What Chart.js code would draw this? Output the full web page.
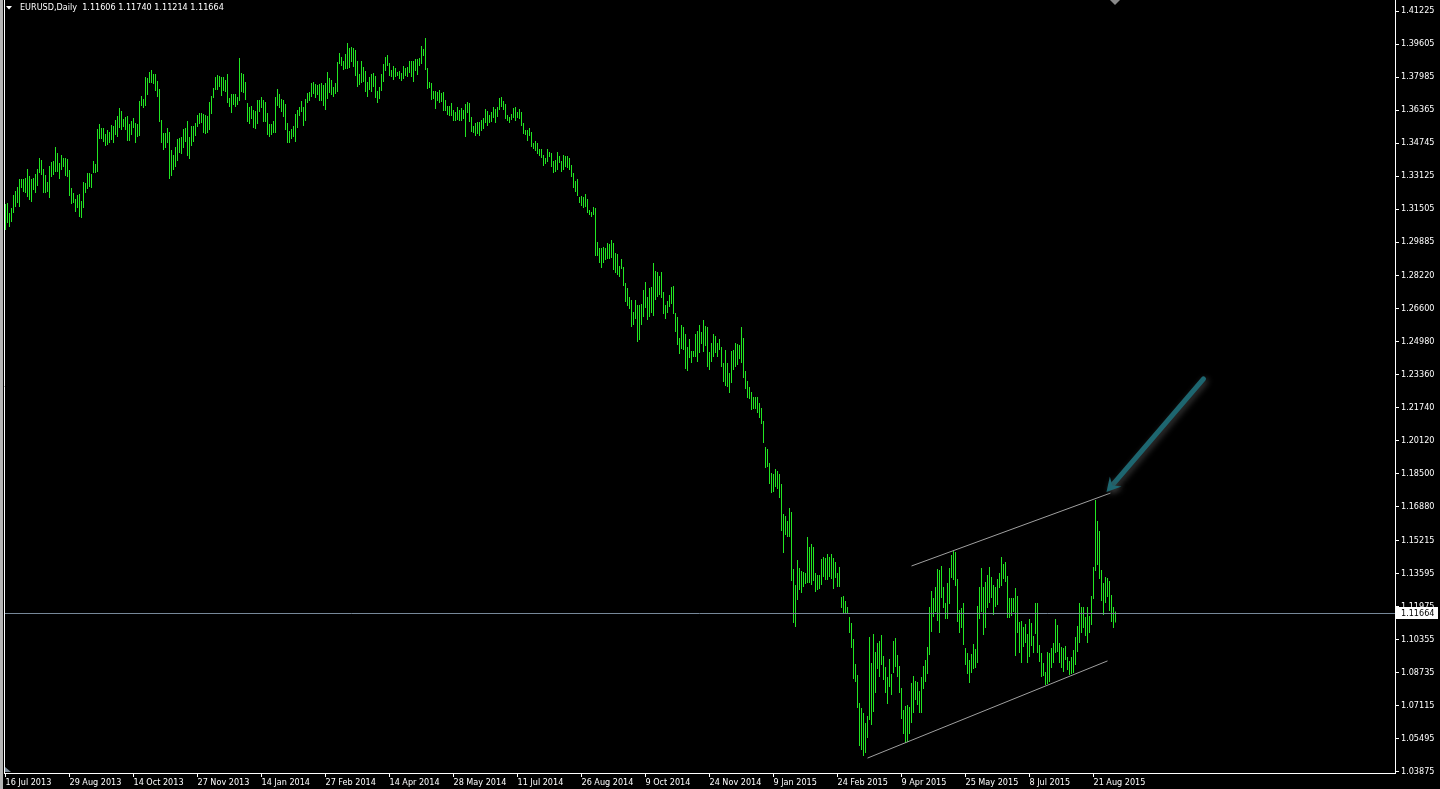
<!DOCTYPE html>
<html>
<head>
<meta charset="utf-8">
<title>EURUSD,Daily</title>
<script src="https://cdn.jsdelivr.net/npm/chart.js@4.4.1/dist/chart.umd.min.js"></script>
<style>
  html, body { margin: 0; padding: 0; background: #000; overflow: hidden; }
  #chart { display: block; }
</style>
</head>
<body>
<canvas id="chart" width="1440" height="789"></canvas>
<script>
// EURUSD daily bars from 16 Jul 2013, one entry per trading day (high / low)
const highs = [
  1.3175,1.3180,1.3131,1.3155,1.3219,1.3239,1.3259,1.3298,1.3298,1.3298,
  1.3303,1.3347,1.3313,1.3298,1.3303,1.3322,1.3347,1.3401,1.3391,1.3347,
  1.3318,1.3283,1.3362,1.3381,1.3386,1.3455,1.3425,1.3376,1.3416,1.3401,
  1.3401,1.3396,1.3342,1.3254,1.3229,1.3200,1.3219,1.3224,1.3190,1.3283,
  1.3278,1.3327,1.3327,1.3322,1.3386,1.3371,1.3543,1.3568,1.3548,1.3548,
  1.3519,1.3538,1.3529,1.3563,1.3558,1.3587,1.3607,1.3646,1.3632,1.3592,
  1.3602,1.3607,1.3568,1.3583,1.3597,1.3573,1.3568,1.3681,1.3705,1.3691,
  1.3799,1.3794,1.3823,1.3833,1.3813,1.3813,1.3779,1.3740,1.3587,1.3524,
  1.3524,1.3548,1.3529,1.3440,1.3416,1.3455,1.3494,1.3499,1.3504,1.3543,
  1.3548,1.3583,1.3504,1.3558,1.3558,1.3573,1.3612,1.3622,1.3622,1.3617,
  1.3612,1.3607,1.3676,1.3705,1.3745,1.3799,1.3808,1.3803,1.3799,1.3799,
  1.3784,1.3813,1.3695,1.3715,1.3715,1.3715,1.3700,1.3892,1.3818,1.3813,
  1.3774,1.3671,1.3651,1.3656,1.3637,1.3632,1.3686,1.3686,1.3700,1.3686,
  1.3676,1.3622,1.3568,1.3568,1.3583,1.3700,1.3740,1.3715,1.3691,1.3686,
  1.3666,1.3573,1.3533,1.3543,1.3558,1.3617,1.3637,1.3651,1.3681,1.3651,
  1.3691,1.3720,1.3725,1.3769,1.3774,1.3764,1.3759,1.3764,1.3769,1.3759,
  1.3769,1.3823,1.3794,1.3784,1.3749,1.3769,1.3872,1.3916,1.3897,1.3877,
  1.3911,1.3965,1.3941,1.3946,1.3941,1.3931,1.3877,1.3813,1.3877,1.3848,
  1.3828,1.3774,1.3799,1.3813,1.3818,1.3803,1.3730,1.3749,1.3813,1.3862,
  1.3897,1.3906,1.3867,1.3833,1.3853,1.3843,1.3823,1.3828,1.3818,1.3853,
  1.3843,1.3848,1.3877,1.3877,1.3877,1.3887,1.3887,1.3892,1.3951,1.3936,
  1.3990,1.3843,1.3774,1.3769,1.3730,1.3730,1.3725,1.3735,1.3720,1.3725,
  1.3686,1.3656,1.3656,1.3671,1.3637,1.3627,1.3651,1.3637,1.3646,1.3637,
  1.3666,1.3676,1.3671,1.3602,1.3558,1.3573,1.3578,1.3578,1.3587,1.3597,
  1.3641,1.3632,1.3612,1.3627,1.3651,1.3641,1.3651,1.3695,1.3700,1.3681,
  1.3666,1.3612,1.3602,1.3617,1.3646,1.3651,1.3627,1.3641,1.3627,1.3573,
  1.3538,1.3538,1.3548,1.3529,1.3475,1.3484,1.3475,1.3445,1.3445,1.3416,
  1.3401,1.3445,1.3430,1.3425,1.3386,1.3391,1.3430,1.3411,1.3386,1.3416,
  1.3411,1.3411,1.3401,1.3367,1.3327,1.3288,1.3298,1.3209,1.3214,1.3209,
  1.3224,1.3200,1.3146,1.3136,1.3160,1.3155,1.2989,1.2959,1.2959,1.2964,
  1.2959,1.2984,1.2979,1.2998,1.2984,1.2935,1.2930,1.2871,1.2905,1.2866,
  1.2787,1.2763,1.2719,1.2704,1.2645,1.2704,1.2679,1.2679,1.2684,1.2753,
  1.2792,1.2719,1.2763,1.2768,1.2885,1.2846,1.2841,1.2822,1.2841,1.2743,
  1.2679,1.2699,1.2728,1.2768,1.2773,1.2640,1.2620,1.2517,1.2581,1.2571,
  1.2537,1.2473,1.2512,1.2453,1.2453,1.2537,1.2552,1.2581,1.2547,1.2606,
  1.2576,1.2571,1.2449,1.2493,1.2537,1.2527,1.2493,1.2512,1.2473,1.2395,
  1.2458,1.2395,1.2345,1.2453,1.2458,1.2493,1.2488,1.2483,1.2571,1.2517,
  1.2355,1.2306,1.2277,1.2252,1.2228,1.2228,1.2228,1.2198,1.2174,1.2110,
  1.1982,1.1972,1.1904,1.1855,1.1850,1.1874,1.1864,1.1850,1.1801,1.1653,
  1.1643,1.1619,1.1683,1.1663,1.1383,1.1305,1.1427,1.1388,1.1373,1.1368,
  1.1364,1.1540,1.1491,1.1506,1.1491,1.1364,1.1354,1.1354,1.1432,1.1442,
  1.1437,1.1457,1.1442,1.1457,1.1437,1.1418,1.1364,1.1393,1.1246,1.1251,
  1.1226,1.1197,1.1148,1.1118,1.1040,1.0917,1.0863,1.0725,1.0701,1.0676,
  1.0627,1.0662,1.1049,1.0922,1.1064,1.0976,1.1020,1.1030,1.1059,1.0956,
  1.0902,1.0853,1.0941,1.0868,1.1030,1.1045,1.0961,1.0907,1.0799,1.0691,
  1.0711,1.0716,1.0706,1.0824,1.0858,1.0833,1.0829,1.0784,1.0853,1.0907,
  1.0937,1.1000,1.1197,1.1275,1.1241,1.1295,1.1383,1.1378,1.1398,1.1295,
  1.1216,1.1315,1.1388,1.1452,1.1472,1.1467,1.1334,1.1182,1.1192,1.1216,
  1.0995,1.0971,1.0937,1.0966,1.1015,1.0990,1.1202,1.1295,1.1388,1.1295,
  1.1319,1.1354,1.1393,1.1344,1.1305,1.1295,1.1334,1.1364,1.1442,1.1408,
  1.1418,1.1349,1.1241,1.1241,1.1241,1.1290,1.1251,1.1123,1.1128,1.1099,
  1.1113,1.1064,1.1138,1.1118,1.1054,1.1216,1.1216,1.1010,1.0971,1.0922,
  1.0878,1.0976,1.0971,1.0995,1.1020,1.1138,1.1108,1.1020,1.1000,1.0995,
  1.1005,1.0951,1.0932,1.0951,1.0986,1.1049,1.1103,1.1216,1.1197,1.1197,
  1.1148,1.1197,1.1153,1.1251,1.1393,1.1722,1.1619,1.1570,1.1378,1.1315,
  1.1344,1.1339,1.1324,1.1255,1.1197,1.1174
];
const lows = [
  1.3047,1.3082,1.3062,1.3087,1.3131,1.3160,1.3180,1.3160,1.3254,1.3234,
  1.3229,1.3209,1.3195,1.3185,1.3244,1.3229,1.3263,1.3327,1.3318,1.3229,
  1.3229,1.3234,1.3205,1.3308,1.3318,1.3332,1.3332,1.3298,1.3342,1.3357,
  1.3313,1.3308,1.3214,1.3175,1.3180,1.3136,1.3155,1.3111,1.3106,1.3155,
  1.3229,1.3249,1.3259,1.3254,1.3327,1.3327,1.3332,1.3494,1.3494,1.3479,
  1.3460,1.3465,1.3475,1.3489,1.3475,1.3514,1.3504,1.3548,1.3538,1.3553,
  1.3538,1.3484,1.3484,1.3514,1.3548,1.3475,1.3504,1.3509,1.3656,1.3646,
  1.3656,1.3710,1.3769,1.3769,1.3764,1.3730,1.3700,1.3578,1.3475,1.3440,
  1.3450,1.3475,1.3298,1.3313,1.3342,1.3357,1.3386,1.3425,1.3420,1.3450,
  1.3479,1.3411,1.3396,1.3460,1.3479,1.3509,1.3553,1.3568,1.3573,1.3524,
  1.3519,1.3524,1.3538,1.3617,1.3695,1.3735,1.3735,1.3749,1.3705,1.3730,
  1.3725,1.3671,1.3651,1.3622,1.3661,1.3651,1.3661,1.3681,1.3725,1.3720,
  1.3686,1.3578,1.3568,1.3592,1.3548,1.3543,1.3568,1.3627,1.3646,1.3578,
  1.3578,1.3514,1.3504,1.3514,1.3524,1.3524,1.3656,1.3646,1.3627,1.3602,
  1.3538,1.3475,1.3475,1.3494,1.3504,1.3479,1.3548,1.3607,1.3627,1.3558,
  1.3583,1.3671,1.3681,1.3700,1.3715,1.3695,1.3710,1.3681,1.3681,1.3656,
  1.3637,1.3691,1.3720,1.3710,1.3700,1.3715,1.3725,1.3862,1.3853,1.3833,
  1.3838,1.3838,1.3843,1.3872,1.3848,1.3803,1.3749,1.3759,1.3769,1.3774,
  1.3725,1.3700,1.3735,1.3725,1.3749,1.3695,1.3671,1.3691,1.3730,1.3774,
  1.3828,1.3853,1.3803,1.3799,1.3784,1.3799,1.3803,1.3789,1.3779,1.3789,
  1.3803,1.3799,1.3818,1.3799,1.3774,1.3828,1.3808,1.3853,1.3862,1.3902,
  1.3833,1.3740,1.3745,1.3686,1.3691,1.3641,1.3681,1.3671,1.3676,1.3632,
  1.3632,1.3612,1.3607,1.3607,1.3583,1.3583,1.3587,1.3583,1.3583,1.3592,
  1.3504,1.3622,1.3578,1.3529,1.3524,1.3509,1.3519,1.3509,1.3533,1.3543,
  1.3573,1.3558,1.3573,1.3578,1.3597,1.3573,1.3602,1.3637,1.3651,1.3637,
  1.3592,1.3583,1.3573,1.3587,1.3597,1.3583,1.3597,1.3592,1.3558,1.3519,
  1.3514,1.3484,1.3509,1.3455,1.3445,1.3435,1.3420,1.3411,1.3401,1.3362,
  1.3371,1.3381,1.3406,1.3357,1.3327,1.3332,1.3342,1.3376,1.3332,1.3342,
  1.3357,1.3352,1.3342,1.3308,1.3254,1.3234,1.3214,1.3180,1.3165,1.3155,
  1.3160,1.3131,1.3121,1.3111,1.3121,1.2920,1.2920,1.2885,1.2861,1.2885,
  1.2900,1.2905,1.2905,1.2910,1.2851,1.2836,1.2827,1.2817,1.2856,1.2773,
  1.2694,1.2674,1.2660,1.2571,1.2581,1.2611,1.2498,1.2507,1.2581,1.2620,
  1.2665,1.2606,1.2620,1.2640,1.2625,1.2704,1.2719,1.2728,1.2714,1.2635,
  1.2611,1.2640,1.2670,1.2684,1.2635,1.2547,1.2483,1.2439,1.2463,1.2458,
  1.2365,1.2355,1.2419,1.2395,1.2424,1.2424,1.2399,1.2444,1.2488,1.2449,
  1.2478,1.2375,1.2360,1.2399,1.2424,1.2444,1.2424,1.2458,1.2375,1.2301,
  1.2282,1.2277,1.2247,1.2296,1.2360,1.2375,1.2385,1.2414,1.2395,1.2321,
  1.2267,1.2223,1.2218,1.2164,1.2169,1.2169,1.2149,1.2124,1.2095,1.2002,
  1.1879,1.1884,1.1801,1.1756,1.1761,1.1786,1.1776,1.1732,1.1570,1.1462,
  1.1550,1.1540,1.1540,1.1324,1.1118,1.1099,1.1231,1.1280,1.1265,1.1295,
  1.1310,1.1315,1.1315,1.1305,1.1324,1.1270,1.1280,1.1285,1.1305,1.1344,
  1.1329,1.1329,1.1344,1.1334,1.1285,1.1339,1.1295,1.1295,1.1192,1.1167,
  1.1167,1.1162,1.1069,1.0995,1.0843,1.0829,1.0701,1.0514,1.0495,1.0465,
  1.0480,1.0554,1.0642,1.0618,1.0681,1.0775,1.0892,1.0853,1.0912,1.0838,
  1.0775,1.0721,1.0804,1.0765,1.0873,1.0902,1.0853,1.0775,1.0647,1.0573,
  1.0529,1.0534,1.0573,1.0627,1.0676,1.0740,1.0716,1.0676,1.0676,1.0794,
  1.0829,1.0868,1.0961,1.1074,1.1148,1.1172,1.1128,1.1069,1.1241,1.1192,
  1.1138,1.1138,1.1211,1.1339,1.1329,1.1300,1.1123,1.1069,1.1094,1.1010,
  1.0912,1.0868,1.0824,1.0873,1.0892,1.0897,1.0922,1.1138,1.1172,1.1059,
  1.1094,1.1192,1.1216,1.1241,1.1158,1.1197,1.1207,1.1290,1.1300,1.1334,
  1.1319,1.1143,1.1143,1.1153,1.1172,1.0956,1.1069,1.0971,1.0922,1.1000,
  1.1020,1.0922,1.0951,1.1005,1.0971,1.1064,1.0971,1.0927,1.0853,1.0858,
  1.0814,1.0819,1.0829,1.0897,1.0922,1.0971,1.0976,1.0922,1.0897,1.0878,
  1.0937,1.0887,1.0863,1.0868,1.0873,1.0912,1.0976,1.1020,1.1069,1.1094,
  1.1054,1.1020,1.1069,1.1108,1.1236,1.1373,1.1403,1.1334,1.1226,1.1158,
  1.1216,1.1246,1.1177,1.1123,1.1094,1.1121
];

// time axis labels, one every 32 bars
const dateLabels = ['16 Jul 2013', '29 Aug 2013', '14 Oct 2013', '27 Nov 2013', '14 Jan 2014',
  '27 Feb 2014', '14 Apr 2014', '28 May 2014', '11 Jul 2014', '26 Aug 2014', '9 Oct 2014',
  '24 Nov 2014', '9 Jan 2015', '24 Feb 2015', '9 Apr 2015', '25 May 2015', '8 Jul 2015', '21 Aug 2015'];
const labelStep = 32;

// price scale labels on the right
const priceTicks = [1.41225, 1.39605, 1.37985, 1.36365, 1.34745, 1.33125, 1.31505, 1.29885,
  1.28220, 1.26600, 1.24980, 1.23360, 1.21740, 1.20120, 1.18500, 1.16880, 1.15215, 1.13595,
  1.11975, 1.10355, 1.08735, 1.07115, 1.05495, 1.03875];

const symbolName = 'EURUSD,Daily';
const lastBar = [1.11606, 1.11740, 1.11214, 1.11664]; // open high low close
const bidPrice = 1.11664;

// channel lines and the arrow (bar index, price)
const upperChannel = [{x: 453, y: 1.1398}, {x: 552.5, y: 1.1756}];
const lowerChannel = [{x: 431, y: 1.0455}, {x: 551, y: 1.0932}];
const arrowFrom = {x: 599, y: 1.2316};
const arrowTo = {x: 550.5, y: 1.1761};

const FONT = 'Tahoma, "DejaVu Sans Condensed", "Liberation Sans", sans-serif';
const BAR_COLOR = '#22e622';

const decor = {
  id: 'decor',
  beforeDraw(chart) {
    const c = chart.ctx;
    c.save();
    c.fillStyle = '#000';
    c.fillRect(0, 0, chart.width, chart.height);
    c.fillStyle = '#b4b4b4';
    c.fillRect(0, 0, 3, chart.height);
    c.restore();
  },
  afterDatasetsDraw(chart) {
    const c = chart.ctx, xs = chart.scales.x, ys = chart.scales.y, area = chart.chartArea;
    c.save();
    // bid line
    const by = Math.round(ys.getPixelForValue(bidPrice)) + 0.5;
    c.strokeStyle = '#778899';
    c.lineWidth = 1;
    c.beginPath();
    c.moveTo(area.left, by);
    c.lineTo(area.right, by);
    c.stroke();

    // arrow
    const x1 = xs.getPixelForValue(arrowFrom.x), y1 = ys.getPixelForValue(arrowFrom.y);
    const x2 = xs.getPixelForValue(arrowTo.x), y2 = ys.getPixelForValue(arrowTo.y);
    const ang = Math.atan2(y2 - y1, x2 - x1);
    c.shadowColor = 'rgba(70,70,70,0.9)';
    c.shadowBlur = 6;
    c.shadowOffsetX = 2;
    c.shadowOffsetY = 2;
    c.strokeStyle = '#1d6670';
    c.fillStyle = '#1d6670';
    c.lineWidth = 5;
    c.lineCap = 'round';
    c.beginPath();
    c.moveTo(x1, y1);
    c.lineTo(x2 - 8 * Math.cos(ang), y2 - 8 * Math.sin(ang));
    c.stroke();
    c.beginPath();
    c.moveTo(x2, y2);
    c.lineTo(x2 - 16 * Math.cos(ang - 0.5), y2 - 16 * Math.sin(ang - 0.5));
    c.lineTo(x2 - 9 * Math.cos(ang), y2 - 9 * Math.sin(ang));
    c.lineTo(x2 - 16 * Math.cos(ang + 0.5), y2 - 16 * Math.sin(ang + 0.5));
    c.closePath();
    c.fill();
    c.restore();
  },
  afterDraw(chart) {
    const c = chart.ctx, ys = chart.scales.y, area = chart.chartArea;
    c.save();
    // left frame
    c.strokeStyle = '#fff';
    c.lineWidth = 1;
    c.beginPath();
    c.moveTo(area.left + 0.5, 0);
    c.lineTo(area.left + 0.5, area.bottom);
    c.stroke();

    // header
    c.fillStyle = '#fff';
    c.beginPath();
    c.moveTo(6, 6); c.lineTo(12, 6); c.lineTo(9, 9.5); c.closePath();
    c.fill();
    c.font = '9px ' + FONT;
    c.textBaseline = 'middle';
    c.fillText(symbolName + '  ' + lastBar.map(v => v.toFixed(5)).join(' '), 20, 8);

    // bid price box
    const by = Math.round(ys.getPixelForValue(bidPrice));
    c.fillStyle = '#fff';
    c.fillRect(area.right + 1, by - 6, 42, 12);
    c.fillStyle = '#000';
    c.fillText(bidPrice.toFixed(5), area.right + 6, by + 0.5);

    // shift markers
    c.fillStyle = '#8a8a8a';
    c.beginPath();
    c.moveTo(1110, 0); c.lineTo(1120, 0); c.lineTo(1115, 5); c.closePath();
    c.fill();
    c.fillStyle = '#7f8c99';
    c.beginPath();
    c.moveTo(area.left + 1, area.bottom - 6); c.lineTo(area.left + 1, area.bottom - 1);
    c.lineTo(area.left + 7, area.bottom - 1); c.closePath();
    c.fill();
    c.restore();
  }
};

const bars = highs.map((h, i) => ({x: i, y: [lows[i], h]}));

new Chart(document.getElementById('chart'), {
  type: 'bar',
  data: {
    datasets: [
      {
        type: 'bar',
        data: bars,
        backgroundColor: BAR_COLOR,
        borderWidth: 0,
        barThickness: 1,
        inflateAmount: 0,
        grouped: false,
        order: 2
      },
      {
        type: 'line',
        data: upperChannel,
        borderColor: '#a0a0a0',
        borderWidth: 1,
        pointRadius: 0,
        order: 1
      },
      {
        type: 'line',
        data: lowerChannel,
        borderColor: '#a0a0a0',
        borderWidth: 1,
        pointRadius: 0,
        order: 1
      }
    ]
  },
  options: {
    responsive: false,
    animation: false,
    devicePixelRatio: 1,
    layout: { padding: { left: 4, top: 0, right: 0, bottom: 0 } },
    plugins: { legend: { display: false }, tooltip: { enabled: false } },
    scales: {
      x: {
        type: 'linear',
        min: -0.75,
        max: 694.75,
        offset: false,
        bounds: 'data',
        afterBuildTicks: s => { s.ticks = dateLabels.map((d, k) => ({value: k * labelStep})); },
        afterFit: s => { s.height = 16; s.paddingLeft = 0; s.paddingRight = 0; },
        ticks: {
          color: '#fff',
          font: { family: FONT, size: 9 },
          align: 'start',
          maxRotation: 0,
          autoSkip: false,
          padding: 0,
          callback: (v, k) => dateLabels[k]
        },
        grid: { drawOnChartArea: false, offset: false, tickLength: 4, color: '#fff' },
        border: { display: true, color: '#fff', width: 1 }
      },
      y: {
        position: 'right',
        min: 1.03818,
        max: 1.41765,
        beginAtZero: false,
        bounds: 'data',
        afterBuildTicks: s => { s.ticks = priceTicks.map(v => ({value: v})); },
        afterFit: s => { s.width = 45; s.paddingTop = 0; s.paddingBottom = 0; },
        ticks: {
          color: '#fff',
          font: { family: FONT, size: 9 },
          padding: 2,
          autoSkip: false,
          callback: v => v.toFixed(5)
        },
        grid: { drawOnChartArea: false, tickLength: 4, color: '#fff' },
        border: { display: true, color: '#fff', width: 1 }
      }
    }
  },
  plugins: [decor]
});
</script>
</body>
</html>
